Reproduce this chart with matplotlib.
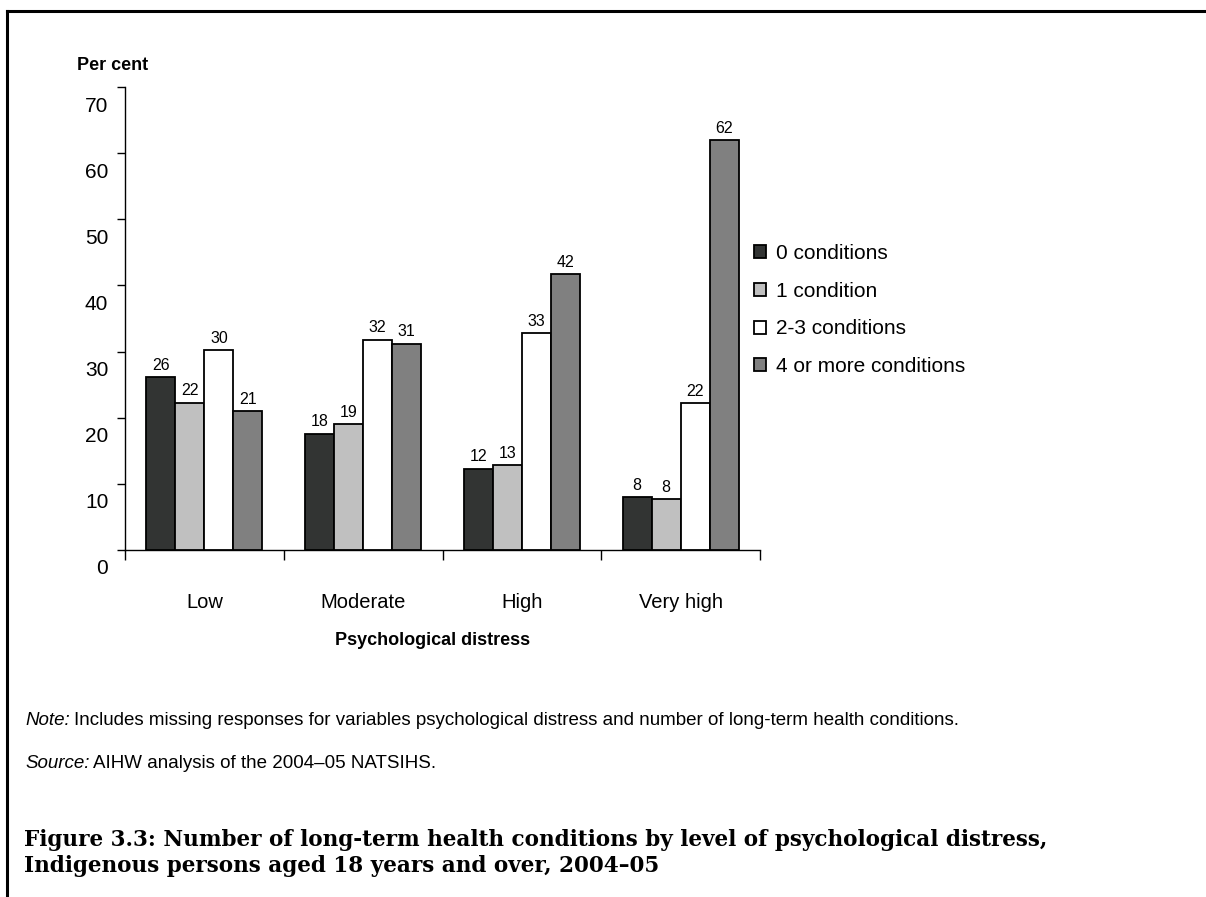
import matplotlib
matplotlib.use("Agg")
import matplotlib.pyplot as plt
import matplotlib.transforms as mtransforms
from matplotlib.lines import Line2D
import numpy as np

categories = ["Low", "Moderate", "High", "Very high"]
series_names = ["0 conditions", "1 condition", "2-3 conditions", "4 or more conditions"]
zero_cond = [26.2, 17.6, 12.3, 8.0]
one_cond = [22.3, 19.0, 12.8, 7.7]
two_three_cond = [30.2, 31.8, 32.8, 22.2]
four_plus_cond = [21.0, 31.2, 41.7, 62.0]
yticks = [0, 10, 20, 30, 40, 50, 60, 70]

series = [zero_cond, one_cond, two_three_cond, four_plus_cond]
colors = ["#323433", "#c0c0c0", "#ffffff", "#808080"]

W, H = 1206, 897
dpi = 100
fig = plt.figure(figsize=(W / dpi, H / dpi), dpi=dpi)
plt.rcParams['font.family'] = ['Liberation Sans', 'DejaVu Sans']

# frame lines (top and left)
fig.add_artist(Line2D([7 / W, 1.0], [1 - 11 / H, 1 - 11 / H], color="black", lw=2.2, transform=fig.transFigure))
fig.add_artist(Line2D([7 / W, 7 / W], [1 - 11 / H, 0.0], color="black", lw=2.2, transform=fig.transFigure))

ax_l, ax_r, ax_t, ax_b = 125, 760, 87, 550
ax = fig.add_axes([ax_l / W, 1 - ax_b / H, (ax_r - ax_l) / W, (ax_b - ax_t) / H])

n = len(series)
x = np.arange(len(categories))
group = 0.73
bw = group / n
handles = []
for i, (vals, c, name) in enumerate(zip(series, colors, series_names)):
    pos = x - group / 2 + bw * (i + 0.5)
    bars = ax.bar(pos, vals, width=bw, color=c, edgecolor="black", linewidth=1.3, label=name, zorder=3)
    handles.append(bars)
    for p, v in zip(pos, vals):
        ax.annotate(f"{v:.0f}", (p, v), xytext=(0, 3), textcoords="offset points",
                    ha="center", va="bottom", fontsize=11.5)

ax.set_xlim(-0.5, len(categories) - 0.5)
ax.set_ylim(0, 70)
ax.set_yticks(yticks)
ax.set_yticklabels([str(t) for t in yticks], fontsize=15)
ax.set_xticks(np.arange(len(categories) + 1) - 0.5)
ax.set_xticklabels([])
ax.set_xticks(x, minor=True)
ax.set_xticklabels(categories, minor=True, fontsize=14.5)
ax.tick_params(axis="x", which="minor", length=0, pad=31)
ax.tick_params(axis="x", which="major", length=7, width=1, direction="out")
ax.tick_params(axis="y", length=6, width=1, direction="out", pad=6)
for lab in ax.get_yticklabels():
    lab.set_transform(lab.get_transform() + mtransforms.ScaledTranslation(0, -17 / dpi, fig.dpi_scale_trans))
for s in ["top", "right"]:
    ax.spines[s].set_visible(False)
for s in ["left", "bottom"]:
    ax.spines[s].set_linewidth(1)

fig.text(77 / W, 1 - 65 / H, "Per cent", fontsize=13, fontweight="bold", ha="left", va="center")
fig.text(433 / W, 1 - 640 / H, "Psychological distress", fontsize=13, fontweight="bold", ha="center", va="center")

leg = ax.legend(handles=handles, labels=series_names, loc="center left",
                bbox_to_anchor=(1.0 + (754 - ax_r) / (ax_r - ax_l), 1 - (310 - ax_t) / (ax_b - ax_t)),
                frameon=False, fontsize=15, handlelength=0.58, handleheight=0.58,
                handletextpad=0.5, labelspacing=0.9, borderaxespad=0, borderpad=0)

note_fs = 13.5
note_y, source_y = 720, 763
t1 = fig.text(25 / W, 1 - note_y / H, "Note:", fontsize=note_fs, style="italic", ha="left", va="center")
fig.canvas.draw()
r = fig.canvas.get_renderer()
bb = t1.get_window_extent(r)
fig.text((bb.x1 + 4) / W, 1 - note_y / H,
         "Includes missing responses for variables psychological distress and number of long-term health conditions.",
         fontsize=note_fs, ha="left", va="center")
t2 = fig.text(25 / W, 1 - source_y / H, "Source:", fontsize=note_fs, style="italic", ha="left", va="center")
bb2 = t2.get_window_extent(r)
fig.text((bb2.x1 + 4) / W, 1 - source_y / H, "AIHW analysis of the 2004\u201305 NATSIHS.", fontsize=note_fs, ha="left", va="center")

serif = ["DejaVu Serif", "Liberation Serif"]
title1 = "Figure 3.3: Number of long-term health conditions by level of psychological distress,"
title2 = "Indigenous persons aged 18 years and over, 2004\u201305"
tt = fig.text(24 / W, 1 - 840 / H, title1, fontsize=15, fontweight="bold", family=serif, ha="left", va="center")
w = tt.get_window_extent(r).width
tfs = 15 * (1055 - 24) / w
tt.set_fontsize(tfs)
fig.text(24 / W, 1 - 866 / H, title2, fontsize=tfs, fontweight="bold", family=serif, ha="left", va="center")

fig.savefig("out.png", dpi=dpi)
